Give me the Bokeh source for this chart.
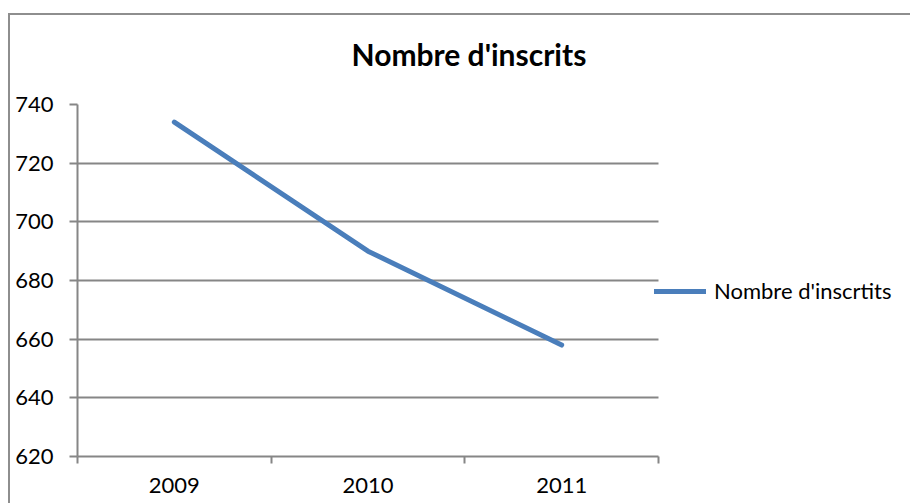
from bokeh.plotting import figure
from bokeh.models import Range1d, FixedTicker, Legend, LegendItem, ColumnDataSource
from bokeh.embed import file_html
from bokeh.resources import INLINE

# ---- data ----
years = ["2009", "2010", "2011"]
inscrits = [734, 690, 658]
y_ticks = [620, 640, 660, 680, 700, 720, 740]
title_text = "Nombre d'inscrits"
legend_label = "Nombre d'inscrtits"

x_pos = [i + 0.5 for i in range(len(years))]
boundaries = list(range(len(years) + 1))
src = ColumnDataSource(dict(x=x_pos, y=inscrits))

FONT = "Lato"
GRID = "#868686"
BORDER = "#8e8e8e"
W, H = 910, 503
# layout (pixels): plot-area left/top/bottom, right end of the category area, frame right
F_LEFT, F_TOP, F_BOTTOM, DATA_RIGHT, F_RIGHT = 77, 104, 456, 658, 905
x_end = len(years) * (F_RIGHT - F_LEFT) / (DATA_RIGHT - F_LEFT)

p = figure(width=W, height=H, output_backend="svg", toolbar_location=None,
           x_range=Range1d(0, x_end), y_range=Range1d(y_ticks[0], y_ticks[-1]),
           min_border_left=F_LEFT, min_border_top=F_TOP,
           min_border_right=W - F_RIGHT, min_border_bottom=H - F_BOTTOM)
p.styles = {
    "background": (f"linear-gradient({BORDER},{BORDER}) 8px 13px / 2px 100% no-repeat, "
                   f"linear-gradient({BORDER},{BORDER}) 8px 13px / 100% 2px no-repeat, white"),
}
p.outline_line_color = None
p.background_fill_color = "white"
p.border_fill_alpha = 0

r = p.line("x", "y", source=src, line_width=5, line_color="#4A7EBB",
           line_cap="round", line_join="round")

# title
p.title.text = title_text
p.title.text_font = FONT
p.title.text_font_size = "30px"
p.title.text_font_style = "bold"
p.title.text_color = "black"
p.title.align = "left"
p.title.offset = 274
p.title.standoff = 65

# x axis
p.xaxis.bounds = (0, len(years))
p.xaxis.ticker = FixedTicker(ticks=x_pos, minor_ticks=boundaries)
p.xaxis.major_label_overrides = {x: y for x, y in zip(x_pos, years)}
p.xaxis.major_tick_line_color = None
p.xaxis.major_tick_out = 7
p.xaxis.major_tick_in = 0
p.xaxis.minor_tick_out = 7
p.xaxis.minor_tick_in = 0
p.xaxis.minor_tick_line_color = GRID
p.xaxis.minor_tick_line_width = 2
p.xaxis.axis_line_color = GRID
p.xaxis.axis_line_width = 2
p.xaxis.major_label_standoff = 14
p.xaxis.major_label_text_font = FONT
p.xaxis.major_label_text_font_size = "22px"
p.xaxis.major_label_text_color = "black"

# y axis
p.yaxis.ticker = FixedTicker(ticks=y_ticks)
p.yaxis.major_tick_out = 8
p.yaxis.major_tick_in = 0
p.yaxis.minor_tick_line_color = None
p.yaxis.major_tick_line_color = GRID
p.yaxis.major_tick_line_width = 2
p.yaxis.axis_line_color = GRID
p.yaxis.axis_line_width = 2
p.yaxis.major_label_standoff = 16
p.yaxis.major_label_text_font = FONT
p.yaxis.major_label_text_font_size = "22px"
p.yaxis.major_label_text_color = "black"

# grid (limited to the category area)
p.xgrid.visible = False
p.ygrid.ticker = FixedTicker(ticks=y_ticks)
p.ygrid.cross_bounds = (0, len(years))
p.ygrid.grid_line_color = GRID
p.ygrid.grid_line_width = 2

# legend
legend = Legend(items=[LegendItem(label=legend_label, renderers=[r])],
                location=(577, 152), padding=0, margin=0,
                border_line_color=None, background_fill_alpha=0,
                glyph_width=52, glyph_height=24, label_height=24,
                label_standoff=8, label_text_font=FONT,
                label_text_font_size="22px", label_text_color="black")
p.add_layout(legend)

open("out.html", "w").write(file_html(p, INLINE))
